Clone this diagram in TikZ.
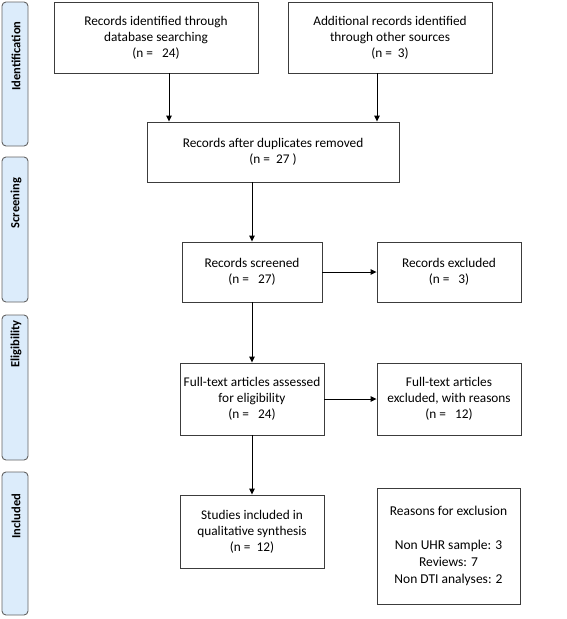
\documentclass[tikz,border=0pt]{standalone}
\usepackage{fontspec}
\setmainfont{Carlito}
\usetikzlibrary{arrows.meta,positioning,calc}
\definecolor{phaseblue}{RGB}{220,236,251}
\definecolor{boxline}{RGB}{60,60,60}

\begin{document}
\begin{tikzpicture}[x=1pt,y=-1pt,
    box/.style={draw=boxline, line width=0.9pt, fill=white, align=center,
        font=\fontsize{13.3}{16}\selectfont, inner sep=2pt},
    phase/.style={draw=boxline!80, line width=0.9pt, fill=phaseblue,
        rounded corners=4pt, minimum width=26pt, inner sep=0pt},
    phasetext/.style={rotate=90, font=\fontsize{12.5}{14}\selectfont\bfseries},
    arr/.style={line width=0.9pt, -{Triangle[length=6pt,width=5.5pt]}}]
    \useasboundingbox (0,0) rectangle (567,619);

    % Phase labels on the left
    \node[phase, minimum height=144pt] (ident) at (15,74) {};
    \node[phasetext] at (16,56) {Identification};
    \node[phase, minimum height=145pt] (screen) at (15,229.5) {};
    \node[phasetext] at (16,203) {Screening};
    \node[phase, minimum height=145pt] (elig) at (15,387.5) {};
    \node[phasetext] at (16,344) {Eligibility};
    \node[phase, minimum height=143pt] (incl) at (15,543.5) {};
    \node[phasetext] at (16,516) {Included};

    % Identification
    \node[box, minimum width=204pt, minimum height=71pt] (dbsearch) at (156,37.5)
        {Records identified through\\database searching\\(n =~~ 24)};
    \node[box, minimum width=204pt, minimum height=71pt] (othersrc) at (390,37.5)
        {Additional records identified\\through other sources\\(n =~ 3)};
    \node[box, minimum width=252pt, minimum height=60pt] (dedup) at (273,152)
        {Records after duplicates removed\\(n =~ 27 )};

    % Screening
    \node[box, minimum width=140pt, minimum height=60pt] (screened) at (252,272)
        {Records screened\\(n =~~ 27)};
    \node[box, minimum width=144pt, minimum height=60pt] (excl) at (449,272)
        {Records excluded\\(n =~~ 3)};

    % Eligibility
    \node[box, minimum width=144pt, minimum height=72pt] (fulltext) at (252,399)
        {Full-text articles assessed\\for eligibility\\(n =~~ 24)};
    \node[box, minimum width=144pt, minimum height=72pt] (ftexcl) at (449,399)
        {Full-text articles\\excluded, with reasons\\(n =~~ 12)};

    % Included
    \node[box, minimum width=144pt, minimum height=73pt] (included) at (252,531.5)
        {Studies included in\\qualitative synthesis\\(n =~ 12)};
    \node[box, minimum width=143pt, minimum height=116pt,
        font=\fontsize{13.5}{17}\selectfont] (reasons) at (448.5,546)
        {Reasons for exclusion\\[17pt]Non UHR sample: 3\\Reviews: 7\\Non DTI analyses: 2};

    % Arrows
    \draw[arr] ([xshift=13pt]dbsearch.south) -- ([xshift=13pt]dbsearch.south |- dedup.north);
    \draw[arr] ([xshift=-13pt]othersrc.south) -- ([xshift=-13pt]othersrc.south |- dedup.north);
    \draw[arr] (screened.north |- dedup.south) -- (screened.north);
    \draw[arr] (screened) -- (excl);
    \draw[arr] (screened) -- (fulltext);
    \draw[arr] (fulltext) -- (ftexcl);
    \draw[arr] (fulltext) -- (included);
\end{tikzpicture}
\end{document}
